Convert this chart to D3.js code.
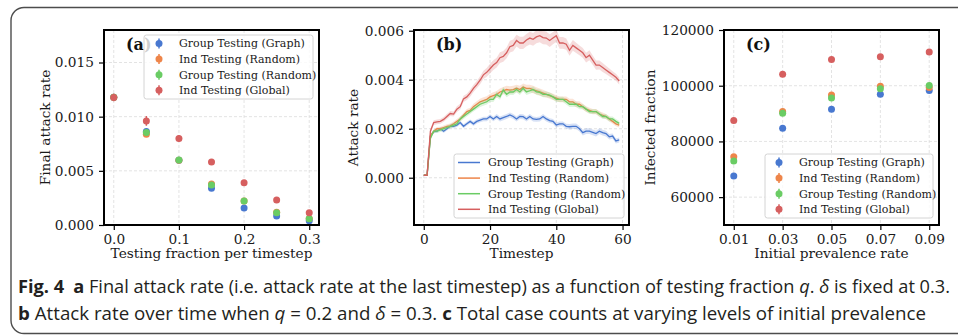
<!DOCTYPE html>
<html>
<head>
<meta charset="utf-8">
<script src="https://cdn.jsdelivr.net/npm/d3@7"></script>
<style>
  body { margin: 0; background: #fff; }
</style>
</head>
<body>
<div id="chart"></div>
<script>
// shared legend / colours
const seriesNames = ["Group Testing (Graph)", "Ind Testing (Random)", "Group Testing (Random)", "Ind Testing (Global)"];
const seriesColors = ["#4878d0", "#ee854a", "#6acc64", "#d65f5f"];

// (a) final attack rate vs testing fraction
const fractions = [0, 0.05, 0.1, 0.15, 0.2, 0.25, 0.3];
const finalGraph = [0.0118, 0.00862, 0.00598, 0.00339, 0.00157, 0.00083, 0.0004];
const finalIndRandom = [0.0118, 0.00838, 0.00598, 0.00379, 0.00222, 0.00117, 0.0006];
const finalGroupRandom = [0.0118, 0.00853, 0.006, 0.0037, 0.00222, 0.00114, 0.00058];
const finalIndGlobal = [0.01177, 0.00961, 0.00798, 0.00582, 0.00391, 0.00231, 0.00114];
const finalErrGraph = [0.0003, 0.00025, 0.0002, 0.00015, 0.0001, 0.0001, 0.0001];
const finalErrIndRandom = [0.0003, 0.00025, 0.0002, 0.00015, 0.0001, 0.0001, 0.0001];
const finalErrGroupRandom = [0.0003, 0.00025, 0.0002, 0.00015, 0.0001, 0.0001, 0.0001];
const finalErrIndGlobal = [0.00035, 0.00045, 0.0003, 0.00025, 0.00015, 0.00015, 0.00015];

// (b) attack rate over time
const timesteps = d3.range(60);
const rateGraph = [0.0001, 0.0001, 0.0017, 0.00188, 0.0019, 0.002, 0.0019, 0.002, 0.0021, 0.0021,
  0.00215, 0.00225, 0.0021, 0.0022, 0.0023, 0.0022, 0.0023, 0.00235, 0.0024, 0.0024,
  0.0025, 0.0024, 0.0025, 0.0024, 0.00245, 0.0025, 0.00256, 0.0025, 0.0024, 0.0025,
  0.00249, 0.0024, 0.0025, 0.0024, 0.00238, 0.0024, 0.0025, 0.0024, 0.00233, 0.0023,
  0.00215, 0.0022, 0.0022, 0.0021, 0.00208, 0.0021, 0.0021, 0.002, 0.00184, 0.0019,
  0.0019, 0.00185, 0.0018, 0.0019, 0.00184, 0.0018, 0.00167, 0.0017, 0.0015, 0.00154];
const rateIndRandom = [0.0001, 0.0001, 0.0017, 0.0019, 0.002, 0.002, 0.00205, 0.0021, 0.00212, 0.0022,
  0.0023, 0.0024, 0.00255, 0.0027, 0.00275, 0.0029, 0.003, 0.0031, 0.00315, 0.0032,
  0.0033, 0.00335, 0.0034, 0.0035, 0.00355, 0.0036, 0.00358, 0.0036, 0.00365, 0.0036,
  0.0037, 0.00365, 0.00365, 0.0036, 0.00355, 0.0035, 0.00345, 0.0034, 0.00335, 0.0033,
  0.00325, 0.0032, 0.0032, 0.0032, 0.0031, 0.0031, 0.003, 0.003, 0.0029, 0.0028,
  0.00275, 0.0027, 0.0027, 0.0026, 0.00255, 0.0025, 0.0024, 0.0023, 0.0022, 0.00215];
const rateGroupRandom = [0.0001, 0.0001, 0.0016, 0.0019, 0.0019, 0.00195, 0.002, 0.00205, 0.0021, 0.00215,
  0.0022, 0.0024, 0.0025, 0.0026, 0.0027, 0.0028, 0.0029, 0.003, 0.00305, 0.0031,
  0.0032, 0.0032, 0.0034, 0.0033, 0.00358, 0.0034, 0.0035, 0.0035, 0.0036, 0.0035,
  0.00365, 0.0035, 0.00355, 0.0036, 0.0035, 0.00348, 0.0034, 0.0034, 0.00337, 0.0033,
  0.0032, 0.0032, 0.0032, 0.0031, 0.003, 0.003, 0.003, 0.0029, 0.0029, 0.0028,
  0.0027, 0.0027, 0.0027, 0.0026, 0.0025, 0.0025, 0.0024, 0.0024, 0.0023, 0.00222];
const rateIndGlobal = [0.0001, 0.0001, 0.0019, 0.00225, 0.00228, 0.0023, 0.00238, 0.0025, 0.00262, 0.0026,
  0.0028, 0.0029, 0.00322, 0.0033, 0.00345, 0.00365, 0.0038, 0.00398, 0.0042, 0.0043,
  0.00445, 0.0046, 0.0047, 0.0049, 0.00495, 0.0051, 0.00535, 0.0054, 0.0056, 0.0055,
  0.0055, 0.00562, 0.0057, 0.00565, 0.00575, 0.0058, 0.00572, 0.0057, 0.0056, 0.0057,
  0.0058, 0.0055, 0.0055, 0.00545, 0.0052, 0.0054, 0.0053, 0.0052, 0.0051, 0.0049,
  0.005, 0.0048, 0.0046, 0.0046, 0.0045, 0.0044, 0.0043, 0.0042, 0.0041, 0.00395];
// half-width of the shaded band around each line
const bandGraph = [0.00002, 0.00002, 0.00006, 0.00006, 0.00006, 0.00007, 0.00007, 0.00007, 0.00007, 0.00008,
  0.00008, 0.00008, 0.00008, 0.00008, 0.00008, 0.00009, 0.00009, 0.00009, 0.00009, 0.00009,
  0.00009, 0.00009, 0.0001, 0.0001, 0.0001, 0.0001, 0.0001, 0.0001, 0.0001, 0.0001,
  0.0001, 0.0001, 0.0001, 0.0001, 0.0001, 0.0001, 0.0001, 0.0001, 0.0001, 0.0001,
  0.0001, 0.0001, 0.0001, 0.0001, 0.00011, 0.00011, 0.00011, 0.00011, 0.00012, 0.00012,
  0.00012, 0.00012, 0.00012, 0.00012, 0.00012, 0.00012, 0.00011, 0.00011, 0.0001, 0.0001];
const bandIndRandom = [0.00002, 0.00002, 0.00007, 0.00007, 0.00007, 0.00008, 0.00008, 0.00008, 0.00009, 0.00009,
  0.0001, 0.0001, 0.0001, 0.00011, 0.00011, 0.00012, 0.00012, 0.00012, 0.00013, 0.00013,
  0.00013, 0.00014, 0.00014, 0.00014, 0.00015, 0.00015, 0.00015, 0.00015, 0.00015, 0.00015,
  0.00015, 0.00015, 0.00015, 0.00015, 0.00014, 0.00014, 0.00014, 0.00013, 0.00013, 0.00013,
  0.00012, 0.00012, 0.00012, 0.00012, 0.00012, 0.00012, 0.00012, 0.00012, 0.00012, 0.00012,
  0.00011, 0.00011, 0.00011, 0.00011, 0.00011, 0.0001, 0.0001, 0.0001, 0.0001, 0.0001];
const bandGroupRandom = [0.00002, 0.00002, 0.00007, 0.00007, 0.00007, 0.00008, 0.00008, 0.00008, 0.00009, 0.00009,
  0.00009, 0.0001, 0.0001, 0.0001, 0.0001, 0.0001, 0.0001, 0.00011, 0.00011, 0.00011,
  0.00011, 0.00011, 0.00012, 0.00012, 0.00012, 0.00012, 0.00012, 0.00012, 0.00012, 0.00012,
  0.00012, 0.00012, 0.00012, 0.00012, 0.00012, 0.00012, 0.00012, 0.00012, 0.00011, 0.00011,
  0.00011, 0.00011, 0.00011, 0.00011, 0.00011, 0.00011, 0.00011, 0.00011, 0.0001, 0.0001,
  0.0001, 0.0001, 0.0001, 0.0001, 0.0001, 0.0001, 0.0001, 0.0001, 0.0001, 0.0001];
const bandIndGlobal = [0.00003, 0.00003, 0.0001, 0.0001, 0.0001, 0.0001, 0.0001, 0.0001, 0.0001, 0.0001,
  0.00012, 0.00012, 0.00013, 0.00013, 0.00014, 0.00015, 0.00015, 0.00016, 0.00017, 0.00018,
  0.0002, 0.0002, 0.0002, 0.00022, 0.00022, 0.00022, 0.00024, 0.00024, 0.00024, 0.00025,
  0.00025, 0.00025, 0.00026, 0.00026, 0.00026, 0.00027, 0.00027, 0.00026, 0.00026, 0.00025,
  0.00025, 0.00024, 0.00024, 0.00023, 0.00022, 0.00022, 0.00021, 0.0002, 0.0002, 0.0002,
  0.0002, 0.00019, 0.00019, 0.00018, 0.00018, 0.00017, 0.00016, 0.00015, 0.00014, 0.00014];

// (c) total cases vs initial prevalence
const prevalence = [0.01, 0.03, 0.05, 0.07, 0.09];
const casesGraph = [67550, 84730, 91560, 96960, 98300];
const casesIndRandom = [74500, 90730, 96700, 99850, 99370];
const casesGroupRandom = [73000, 90130, 95630, 98870, 100100];
const casesIndGlobal = [87500, 104150, 109450, 110400, 112080];
const casesErrGraph = [700, 600, 600, 600, 600];
const casesErrIndRandom = [700, 600, 600, 600, 600];
const casesErrGroupRandom = [700, 600, 900, 800, 800];
const casesErrIndGlobal = [700, 600, 600, 600, 600];

// caption
const captionLine1 = [
  { t: "Fig. 4", b: true }, { t: "\u2002" }, { t: "a", b: true },
  { t: " Final attack rate (i.e. attack rate at the last timestep) as a function of testing fraction " },
  { t: "q", i: true }, { t: ". " }, { t: "\u03b4", i: true }, { t: " is fixed at 0.3." }
];
const captionLine2 = [
  { t: "b", b: true }, { t: " Attack rate over time when " }, { t: "q", i: true }, { t: " = 0.2 and " },
  { t: "\u03b4", i: true }, { t: " = 0.3. " }, { t: "c", b: true },
  { t: " Total case counts at varying levels of initial prevalence" }
];

const plotTop = 30, plotBottom = 225;
const serif = "DejaVu Serif";

const svg = d3.select("#chart").append("svg")
  .attr("width", 958)
  .attr("height", 335);

// outer figure frame
svg.append("rect")
  .attr("x", 11).attr("y", 7.5)
  .attr("width", 990).attr("height", 326)
  .attr("rx", 13)
  .attr("fill", "none")
  .attr("stroke", "#4d4d4d")
  .attr("stroke-width", 1.4);

function makePanel(opt) {
  const g = svg.append("g");
  const x = opt.x, y = opt.y;

  // dashed grid
  g.append("g").selectAll("line").data(opt.xTicks).join("line")
    .attr("x1", d => x(d)).attr("x2", d => x(d))
    .attr("y1", plotTop).attr("y2", plotBottom)
    .attr("stroke", "#dcdcdc").attr("stroke-width", 0.8).attr("stroke-dasharray", "3,2");
  g.append("g").selectAll("line").data(opt.yTicks).join("line")
    .attr("x1", x.range()[0]).attr("x2", x.range()[1])
    .attr("y1", d => y(d)).attr("y2", d => y(d))
    .attr("stroke", "#dcdcdc").attr("stroke-width", 0.8).attr("stroke-dasharray", "3,2");

  const xAxis = g.append("g")
    .attr("transform", `translate(0,${plotBottom})`)
    .call(d3.axisBottom(x).tickValues(opt.xTicks).tickFormat(opt.xFmt)
      .tickSize(5).tickSizeOuter(0).tickPadding(4));
  const yAxis = g.append("g")
    .attr("transform", `translate(${x.range()[0]},0)`)
    .call(d3.axisLeft(y).tickValues(opt.yTicks).tickFormat(opt.yFmt)
      .tickSize(5).tickSizeOuter(0).tickPadding(5));
  [xAxis, yAxis].forEach(a => {
    a.attr("font-family", serif).attr("font-size", 13.7);
    a.select(".domain").remove();
    a.selectAll(".tick line").attr("stroke", "#000").attr("stroke-width", 1.2);
    a.selectAll(".tick text").attr("fill", "#1a1a1a");
  });

  // axis titles
  g.append("text")
    .attr("x", (x.range()[0] + x.range()[1]) / 2).attr("y", 258)
    .attr("text-anchor", "middle")
    .attr("font-family", serif).attr("font-size", 13.7).attr("fill", "#1a1a1a")
    .text(opt.xTitle);
  g.append("text")
    .attr("transform", `translate(${opt.yTitleX},${(plotTop + plotBottom) / 2}) rotate(-90)`)
    .attr("text-anchor", "middle")
    .attr("font-family", serif).attr("font-size", 13.7).attr("fill", "#1a1a1a")
    .text(opt.yTitle);

  const marks = g.append("g");
  const overlay = g.append("g");
  return { g, x, y, marks, overlay };
}

function addFrame(p) {
  p.overlay.append("rect")
    .attr("x", p.x.range()[0]).attr("y", plotTop)
    .attr("width", p.x.range()[1] - p.x.range()[0])
    .attr("height", plotBottom - plotTop)
    .attr("fill", "none").attr("stroke", "#000").attr("stroke-width", 2);
}

function addTag(p, label, xPos) {
  p.marks.append("text")
    .attr("x", xPos).attr("y", 50)
    .attr("font-family", serif).attr("font-weight", "bold").attr("font-size", 16)
    .attr("fill", "#111")
    .text(label);
}

function addLegend(p, box, kind) {
  const lg = p.overlay.append("g");
  lg.append("rect")
    .attr("x", box.x).attr("y", box.y).attr("width", box.w).attr("height", box.h)
    .attr("rx", 2.5)
    .attr("fill", "#fff").attr("fill-opacity", 0.8)
    .attr("stroke", "#d4d4d4").attr("stroke-width", 1);
  const rowY = i => box.y + 8.5 + i * 15.6;
  const items = lg.selectAll("g.item").data(seriesNames).join("g").attr("class", "item");
  if (kind === "line") {
    items.append("line")
      .attr("x1", box.x + 4).attr("x2", box.x + 26)
      .attr("y1", (d, i) => rowY(i)).attr("y2", (d, i) => rowY(i))
      .attr("stroke", (d, i) => seriesColors[i]).attr("stroke-width", 1.5);
  } else {
    items.append("line")
      .attr("x1", box.x + box.mx).attr("x2", box.x + box.mx)
      .attr("y1", (d, i) => rowY(i) - 5).attr("y2", (d, i) => rowY(i) + 5)
      .attr("stroke", (d, i) => seriesColors[i]).attr("stroke-width", 1.5);
    items.append("circle")
      .attr("cx", box.x + box.mx).attr("cy", (d, i) => rowY(i)).attr("r", 3.5)
      .attr("fill", (d, i) => seriesColors[i]);
  }
  items.append("text")
    .attr("x", box.x + box.tx).attr("y", (d, i) => rowY(i))
    .attr("dy", "0.35em")
    .attr("font-family", serif).attr("font-size", 11).attr("fill", "#1a1a1a")
    .text(d => d);
}

function addErrorDots(p, xs, values, errs, color) {
  const pts = xs.map((d, i) => ({ x: d, v: values[i], e: errs[i] }));
  const grp = p.marks.append("g");
  grp.selectAll("line").data(pts).join("line")
    .attr("x1", d => p.x(d.x)).attr("x2", d => p.x(d.x))
    .attr("y1", d => p.y(d.v - d.e)).attr("y2", d => p.y(d.v + d.e))
    .attr("stroke", color).attr("stroke-width", 1.5);
  grp.selectAll("circle").data(pts).join("circle")
    .attr("cx", d => p.x(d.x)).attr("cy", d => p.y(d.v)).attr("r", 3.5)
    .attr("fill", color);
}

// ---------- panel (a)
const pa = makePanel({
  x: d3.scaleLinear().domain([-0.015, 0.315]).range([104, 319]),
  y: d3.scaleLinear().domain([0, 0.018]).range([plotBottom, plotTop]),
  xTicks: [0, 0.1, 0.2, 0.3], yTicks: [0, 0.005, 0.01, 0.015],
  xFmt: d3.format(".1f"), yFmt: d3.format(".3f"),
  xTitle: "Testing fraction per timestep", yTitle: "Final attack rate", yTitleX: 50
});
addTag(pa, "(a)", 126);
[[finalGraph, finalErrGraph], [finalIndRandom, finalErrIndRandom],
 [finalGroupRandom, finalErrGroupRandom], [finalIndGlobal, finalErrIndGlobal]]
  .forEach(([v, e], i) => addErrorDots(pa, fractions, v, e, seriesColors[i]));
addFrame(pa);
addLegend(pa, { x: 144, y: 35, w: 169, h: 64, mx: 15, tx: 35 }, "dot");

// ---------- panel (b)
const pb = makePanel({
  x: d3.scaleLinear().domain([-2.95, 61.95]).range([414, 629]),
  y: d3.scaleLinear().domain([-0.00193, 0.00603]).range([plotBottom, plotTop]),
  xTicks: [0, 20, 40, 60], yTicks: [0, 0.002, 0.004, 0.006],
  xFmt: d3.format("d"), yFmt: d3.format(".3f"),
  xTitle: "Timestep", yTitle: "Attack rate", yTitleX: 358
});
addTag(pb, "(b)", 436);
const lineGen = d3.line().x(d => pb.x(d.t)).y(d => pb.y(d.v));
const areaGen = d3.area().x(d => pb.x(d.t)).y0(d => pb.y(d.v - d.b)).y1(d => pb.y(d.v + d.b));
[[rateGraph, bandGraph], [rateIndRandom, bandIndRandom],
 [rateGroupRandom, bandGroupRandom], [rateIndGlobal, bandIndGlobal]]
  .forEach(([v, b], i) => {
    const pts = timesteps.map((t, k) => ({ t, v: v[k], b: b[k] }));
    pb.marks.append("path").attr("d", areaGen(pts))
      .attr("fill", seriesColors[i]).attr("fill-opacity", 0.22);
    pb.marks.append("path").attr("d", lineGen(pts))
      .attr("fill", "none").attr("stroke", seriesColors[i]).attr("stroke-width", 1.3);
  });
addFrame(pb);
addLegend(pb, { x: 454, y: 154, w: 170, h: 64, tx: 34 }, "line");

// ---------- panel (c)
const pc = makePanel({
  x: d3.scaleLinear().domain([0.006, 0.094]).range([724, 939]),
  y: d3.scaleLinear().domain([50000, 120000]).range([plotBottom, plotTop]),
  xTicks: [0.01, 0.03, 0.05, 0.07, 0.09], yTicks: [60000, 80000, 100000, 120000],
  xFmt: d3.format(".2f"), yFmt: d3.format("d"),
  xTitle: "Initial prevalence rate", yTitle: "Infected fraction", yTitleX: 655
});
addTag(pc, "(c)", 746);
[[casesGraph, casesErrGraph], [casesIndRandom, casesErrIndRandom],
 [casesGroupRandom, casesErrGroupRandom], [casesIndGlobal, casesErrIndGlobal]]
  .forEach(([v, e], i) => addErrorDots(pc, prevalence, v, e, seriesColors[i]));
addFrame(pc);
addLegend(pc, { x: 765, y: 154, w: 168, h: 64, mx: 14, tx: 34 }, "dot");

// ---------- caption
function captionLine(parts, y, width) {
  const t = svg.append("text")
    .attr("x", 18).attr("y", y)
    .attr("font-family", "Open Sans").attr("font-size", 17.5).attr("fill", "#231f20")
    .attr("textLength", width).attr("lengthAdjust", "spacingAndGlyphs");
  t.selectAll("tspan").data(parts).join("tspan")
    .attr("font-weight", d => d.b ? "bold" : null)
    .attr("font-style", d => d.i ? "italic" : null)
    .text(d => d.t);
}
captionLine(captionLine1, 293, 932);
captionLine(captionLine2, 320, 908);
</script>
</body>
</html>
